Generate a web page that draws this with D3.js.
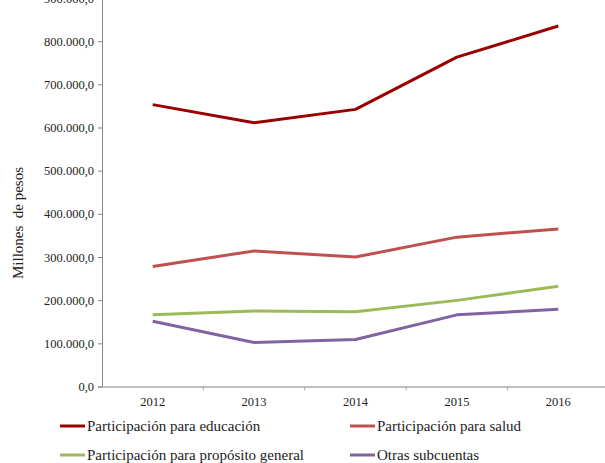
<!DOCTYPE html>
<html>
<head>
<meta charset="utf-8">
<script src="https://cdn.jsdelivr.net/npm/d3@7"></script>
<style>
  body { margin: 0; background: #fff; }
</style>
</head>
<body>
<div id="chart"></div>
<script>
// data (millones de pesos)
const years = ['2012', '2013', '2014', '2015', '2016']
const educacion = [653000, 611000, 642000, 763000, 835000]
const salud = [278000, 314000, 300000, 346000, 365000]
const propositoGeneral = [166000, 175000, 173000, 199500, 232000]
const otras = [151000, 102000, 109000, 166000, 179000]
const yTicks = [0, 100000, 200000, 300000, 400000, 500000, 600000, 700000, 800000, 900000]

const seriesList = [
    { name: 'Participación para educación', values: educacion, color: '#990000' },
    { name: 'Participación para salud', values: salud, color: '#C0504D' },
    { name: 'Participación para propósito general', values: propositoGeneral, color: '#9BBB59' },
    { name: 'Otras subcuentas', values: otras, color: '#8064A2' }
]

const serif = "'Liberation Serif', 'Times New Roman', serif"
const width = 605, height = 463
const svg = d3.select('#chart').append('svg')
    .attr('width', width)
    .attr('height', height)

// scales
const x = d3.scaleBand().domain(years).range([102, 609])
const y = d3.scaleLinear().domain([0, 900000]).range([386.5, -2])

const fmt = v => d3.format(',.1f')(v).replace(/,/g, '#').replace('.', ',').replace(/#/g, '.')

// y axis
const yAxis = svg.append('g')
    .attr('transform', 'translate(102,0)')
    .call(d3.axisLeft(y).tickValues(yTicks).tickSize(4).tickFormat(fmt))
yAxis.attr('font-family', serif)
yAxis.select('.domain').attr('stroke', '#888')
yAxis.selectAll('.tick line').attr('stroke', '#888')
yAxis.selectAll('.tick text').attr('x', -8)
    .style('font-family', serif).style('font-size', '12.5px').attr('fill', '#222')

// x axis
const xAxis = svg.append('g')
    .attr('transform', 'translate(0,386.5)')
    .call(d3.axisBottom(x).tickSize(0))
xAxis.attr('font-family', serif)
xAxis.select('.domain').attr('stroke', '#aaa').attr('stroke-width', 1.5)
xAxis.selectAll('.tick text').attr('y', 11)
    .style('font-family', serif).style('font-size', '12.5px').attr('fill', '#222')
// category separator ticks
svg.append('g').selectAll('line')
    .data(years.slice(1))
    .enter()
    .append('line')
    .attr('x1', d => x(d)).attr('x2', d => x(d))
    .attr('y1', 386.5).attr('y2', 390.5)
    .attr('stroke', '#aaa')

// y title
svg.append('text')
    .attr('transform', 'translate(23,223) rotate(-90)')
    .attr('text-anchor', 'middle')
    .style('font-family', serif)
    .style('font-size', '15px')
    .style('white-space', 'pre')
    .attr('fill', '#222')
    .text('Millones  de pesos')

// lines
const line = d3.line()
    .x((d, i) => x(years[i]) + x.bandwidth() / 2)
    .y(d => y(d))

svg.append('g').selectAll('path')
    .data(seriesList)
    .enter()
    .append('path')
    .attr('d', d => line(d.values))
    .attr('fill', 'none')
    .attr('stroke', d => d.color)
    .attr('stroke-width', 3)
    .attr('stroke-linejoin', 'round')

// legend
const legendPos = [[60, 426], [350, 426], [60, 455], [350, 455]]
const legend = svg.append('g').selectAll('g')
    .data(seriesList)
    .enter()
    .append('g')
    .attr('transform', (d, i) => `translate(${legendPos[i][0]},${legendPos[i][1]})`)
legend.append('line')
    .attr('x1', 0).attr('x2', 25)
    .attr('stroke', d => d.color)
    .attr('stroke-width', 3)
legend.append('text')
    .attr('x', 27)
    .attr('dy', '0.35em')
    .style('font-family', serif)
    .style('font-size', '15px')
    .attr('fill', '#222')
    .text(d => d.name)
</script>
</body>
</html>
